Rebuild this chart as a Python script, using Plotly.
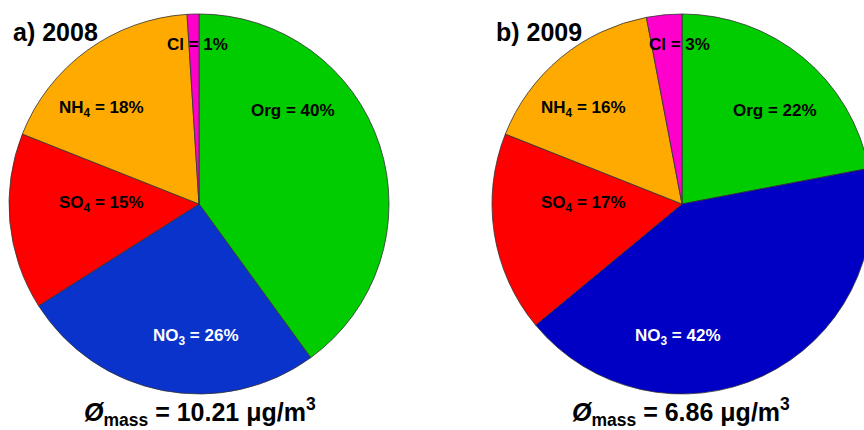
import plotly.graph_objects as go

# Aerosol composition (percent of total mass), clockwise from 12 o'clock
species = ["Org", "NO3", "SO4", "NH4", "Cl"]
share_2008 = [40, 26, 15, 18, 1]
share_2009 = [22, 42, 17, 16, 3]
mass_2008 = 10.21
mass_2009 = 6.86

# species label text (with sub-scripts) and text colours
species_html = ["Org", "NO<sub>3</sub>", "SO<sub>4</sub>", "NH<sub>4</sub>", "Cl"]
text_colors = ["black", "white", "black", "black", "black"]

colors_2008 = ["#00CC00", "#0A33CC", "#FF0000", "#FFAA00", "#FF00CC"]
colors_2009 = ["#00CC00", "#0000C4", "#FF0000", "#FFAA00", "#FF00CC"]

# canvas is slightly wider than the view so the right pie runs off the edge
W, H = 872, 430
FONT = "Liberation Sans, Arial, sans-serif"


def px(x):
    return x / W


def py(y):
    return 1 - y / H


fig = go.Figure()

fig.add_trace(go.Pie(
    labels=species, values=share_2008, sort=False, direction="clockwise",
    rotation=0, textinfo="none", showlegend=False,
    marker=dict(colors=colors_2008, line=dict(color="#333333", width=0.8)),
    domain=dict(x=[px(9), px(389)], y=[py(394), py(14)]),
))
fig.add_trace(go.Pie(
    labels=species, values=share_2009, sort=False, direction="clockwise",
    rotation=0, textinfo="none", showlegend=False,
    marker=dict(colors=colors_2009, line=dict(color="#333333", width=0.8)),
    domain=dict(x=[px(492), 1], y=[py(394), py(14)]),
))

# label anchor offsets (pixels) relative to each pie's centre
label_offsets = {"Org": (94, -94), "NO3": (-3, 133), "SO4": (-98, 0),
                 "NH4": (-98, -95), "Cl": (-2, -160)}

annotations = []
for cx, cy, shares in [(199, 204, share_2008), (681, 204, share_2009)]:
    for name, html, val, tc in zip(species, species_html, shares, text_colors):
        dx, dy = label_offsets[name]
        annotations.append(dict(
            x=px(cx + dx), y=py(cy + dy), xref="paper", yref="paper",
            text=f"<b>{html} = {val}%</b>", showarrow=False,
            xanchor="center", yanchor="middle",
            font=dict(family=FONT, size=17, color=tc),
        ))

# panel titles
for x, t in [(11, "a) 2008"), (494, "b) 2009")]:
    annotations.append(dict(
        x=px(x), y=py(32), xref="paper", yref="paper", text=f"<b>{t}</b>",
        showarrow=False, xanchor="left", yanchor="middle",
        font=dict(family=FONT, size=25, color="black"),
    ))

# mean mass concentration under each pie
for cx, m in [(200, mass_2008), (681, mass_2009)]:
    annotations.append(dict(
        x=px(cx), y=py(412), xref="paper", yref="paper",
        text=f"<b><i>Ø</i><sub>mass</sub> = {m:.2f} μg/m<sup>3</sup></b>",
        showarrow=False, xanchor="center", yanchor="middle",
        font=dict(family=FONT, size=25, color="black"),
    ))

fig.update_layout(
    width=W, height=H, margin=dict(l=0, r=0, t=0, b=0),
    paper_bgcolor="white", plot_bgcolor="white",
    annotations=annotations,
)

fig.write_html(
    "out.html",
    post_script="document.documentElement.style.overflow='hidden';"
                "document.body.style.overflow='hidden';",
)
